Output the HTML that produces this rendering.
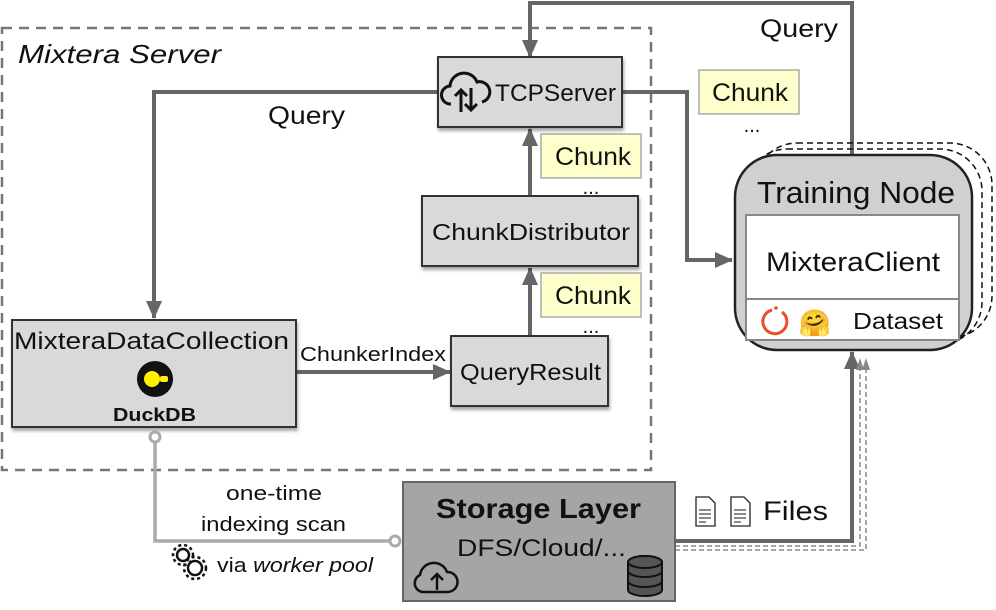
<!DOCTYPE html>
<html><head><meta charset="utf-8"><style>
html,body{margin:0;padding:0;background:#fff;}
svg{display:block;}
text{font-family:"Liberation Sans",sans-serif;fill:#111;}
</style></head><body>
<svg width="996" height="610" viewBox="0 0 996 610" xmlns="http://www.w3.org/2000/svg">
<defs>
<marker id="ah2" markerWidth="18" markerHeight="16" refX="17" refY="8" orient="auto" markerUnits="userSpaceOnUse"><path d="M0,0 L18,8 L0,16 z" fill="#666"/></marker>
<filter id="sh" x="-5%" y="-5%" width="115%" height="125%"><feDropShadow dx="1" dy="3" stdDeviation="1.5" flood-color="#000" flood-opacity="0.35"/></filter>
</defs>

<rect x="2" y="28" width="649" height="442" fill="none" stroke="#777" stroke-width="2.5" stroke-dasharray="10,7"/>
<text x="18" y="63" font-size="26" font-style="italic" textLength="203" lengthAdjust="spacingAndGlyphs">Mixtera Server</text>

<path d="M852,155 L852,3 L530,3 L530,57" fill="none" stroke="#666" stroke-width="4" marker-end="url(#ah2)"/>
<text x="760" y="37" font-size="25" textLength="78" lengthAdjust="spacingAndGlyphs">Query</text>

<path d="M440,92 L154,92 L154,318" fill="none" stroke="#666" stroke-width="4" marker-end="url(#ah2)"/>
<text x="268" y="124" font-size="25" textLength="77" lengthAdjust="spacingAndGlyphs">Query</text>

<path d="M622,92 L687,92 L687,260 L732,260" fill="none" stroke="#666" stroke-width="4" marker-end="url(#ah2)"/>

<path d="M530,336 L530,268" fill="none" stroke="#666" stroke-width="4" marker-end="url(#ah2)"/>
<path d="M530,196 L530,129" fill="none" stroke="#666" stroke-width="4" marker-end="url(#ah2)"/>
<path d="M296,372 L450,372" fill="none" stroke="#666" stroke-width="4" marker-end="url(#ah2)"/>
<text x="300" y="361" font-size="20" textLength="146" lengthAdjust="spacingAndGlyphs">ChunkerIndex</text>

<rect x="438" y="57" width="184" height="70" fill="#d9d9d9" stroke="#333" stroke-width="2" filter="url(#sh)"/>
<path d="M451,104 a9,9 0 0 1 -1,-18 a14,14 0 0 1 27,-4 a10,10 0 0 1 5,20" fill="none" stroke="#111" stroke-width="3"/>
<path d="M461,112 L461,90 M455,96 L461,90 L467,96 M471,88 L471,110 M465,104 L471,110 L477,104" fill="none" stroke="#111" stroke-width="3"/>
<text x="495" y="101" font-size="24" textLength="121" lengthAdjust="spacingAndGlyphs">TCPServer</text>

<rect x="422" y="196" width="216" height="70" fill="#d9d9d9" stroke="#333" stroke-width="2" filter="url(#sh)"/>
<text x="432" y="240" font-size="23" textLength="198" lengthAdjust="spacingAndGlyphs">ChunkDistributor</text>

<rect x="451" y="336" width="157" height="70" fill="#d9d9d9" stroke="#333" stroke-width="2" filter="url(#sh)"/>
<text x="460" y="380" font-size="23" textLength="141" lengthAdjust="spacingAndGlyphs">QueryResult</text>

<rect x="541" y="134" width="100" height="44" fill="#ffffcc" stroke="#aaa" stroke-width="1.5"/>
<text x="555" y="165" font-size="25" textLength="76" lengthAdjust="spacingAndGlyphs">Chunk</text>
<text x="591" y="194" font-size="20" text-anchor="middle">...</text>
<rect x="541" y="273" width="100" height="44" fill="#ffffcc" stroke="#aaa" stroke-width="1.5"/>
<text x="555" y="304" font-size="25" textLength="76" lengthAdjust="spacingAndGlyphs">Chunk</text>
<text x="591" y="333" font-size="20" text-anchor="middle">...</text>
<rect x="699" y="70" width="100" height="44" fill="#ffffcc" stroke="#aaa" stroke-width="1.5"/>
<text x="712" y="101" font-size="25" textLength="76" lengthAdjust="spacingAndGlyphs">Chunk</text>
<text x="752" y="132" font-size="20" text-anchor="middle">...</text>

<rect x="12" y="320" width="284" height="107" fill="#d9d9d9" stroke="#333" stroke-width="2" filter="url(#sh)"/>
<text x="14" y="349" font-size="24" textLength="275" lengthAdjust="spacingAndGlyphs">MixteraDataCollection</text>
<circle cx="155" cy="379" r="18" fill="#111"/>
<circle cx="152" cy="379" r="8" fill="#fff100"/>
<rect x="160" y="376" width="8" height="6" rx="2" fill="#fff100"/>
<text x="113" y="421" font-size="18" font-weight="bold" textLength="83" lengthAdjust="spacingAndGlyphs">DuckDB</text>

<path d="M155,437 L155,541 L395,541" fill="none" stroke="#aaa" stroke-width="3.5"/>
<circle cx="155" cy="437" r="5" fill="#fff" stroke="#aaa" stroke-width="3"/>
<circle cx="395" cy="541" r="5" fill="#fff" stroke="#aaa" stroke-width="3"/>
<text x="226" y="500" font-size="20" textLength="96" lengthAdjust="spacingAndGlyphs">one-time</text>
<text x="201" y="531" font-size="20" textLength="145" lengthAdjust="spacingAndGlyphs">indexing scan</text>
<g fill="none" stroke="#111" stroke-width="2.5">
<circle cx="183" cy="555" r="6"/><circle cx="195" cy="568" r="7"/>
<circle cx="183" cy="555" r="10" stroke-dasharray="3,3"/><circle cx="195" cy="568" r="11" stroke-dasharray="3,3"/>
</g>
<text x="217" y="572" font-size="20" textLength="156" lengthAdjust="spacingAndGlyphs">via <tspan font-style="italic">worker pool</tspan></text>

<path d="M675,541 L852,541 L852,352" fill="none" stroke="#666" stroke-width="4" marker-end="url(#ah2)"/>
<path d="M675,546 L860,546 L860,366" fill="none" stroke="#888" stroke-width="1.5" stroke-dasharray="5,3"/>
<path d="M675,550 L866,550 L866,366" fill="none" stroke="#888" stroke-width="1.5" stroke-dasharray="5,3"/>
<path d="M856,370 L860,358 L864,370 z M862,370 L866,358 L870,370 z" fill="#888"/>
<rect x="403" y="482" width="272" height="119" fill="#a5a5a5" stroke="#666" stroke-width="2"/>
<text x="436" y="518" font-size="28" font-weight="bold" textLength="205" lengthAdjust="spacingAndGlyphs">Storage Layer</text>
<text x="457" y="556" font-size="24" textLength="169" lengthAdjust="spacingAndGlyphs">DFS/Cloud/...</text>
<path d="M422,592 a9,9 0 0 1 -2,-17 a14,14 0 0 1 27,-3 a10,10 0 0 1 1,20 z" fill="none" stroke="#111" stroke-width="2.5"/>
<path d="M437,590 L437,574 M431,580 L437,574 L443,580" fill="none" stroke="#111" stroke-width="2.5"/>
<g fill="#555" stroke="#111" stroke-width="2">
<path d="M628,562 a17,6 0 0 1 34,0 v28 a17,6 0 0 1 -34,0 z"/>
<path d="M628,571 a17,6 0 0 0 34,0 M628,581 a17,6 0 0 0 34,0" fill="none"/>
<ellipse cx="645" cy="562" rx="17" ry="6"/>
</g>
<g fill="#fff" stroke="#222" stroke-width="1.3">
<path d="M696,497 h13 l6,6 v23 h-19 z"/><path d="M731,497 h13 l6,6 v23 h-19 z"/>
</g>
<g stroke="#444" stroke-width="1.2"><path d="M699,510h12M699,514h12M699,518h12M699,522h7M734,510h12M734,514h12M734,518h12M734,522h7"/></g>
<text x="763" y="520" font-size="27" textLength="65" lengthAdjust="spacingAndGlyphs">Files</text>

<rect x="755" y="143" width="237" height="195" rx="42" fill="none" stroke="#111" stroke-width="1.5" stroke-dasharray="6,4"/>
<rect x="745" y="149" width="237" height="195" rx="42" fill="none" stroke="#111" stroke-width="1.5" stroke-dasharray="6,4"/>
<rect x="735" y="155" width="237" height="195" rx="42" fill="#d0d0d0" stroke="#222" stroke-width="2.5"/>
<text x="757" y="203" font-size="31" textLength="198" lengthAdjust="spacingAndGlyphs">Training Node</text>
<rect x="746" y="215" width="213" height="125" fill="#fff" stroke="#888" stroke-width="2"/>
<line x1="746" y1="299" x2="959" y2="299" stroke="#888" stroke-width="2"/>
<text x="766" y="271" font-size="27" textLength="174" lengthAdjust="spacingAndGlyphs">MixteraClient</text>
<path d="M772,310 a12,12 0 1 0 10,2" fill="none" stroke="#ee4c2c" stroke-width="3"/>
<circle cx="776" cy="308" r="1.8" fill="#ee4c2c"/>
<text x="815" y="332" font-size="26" text-anchor="middle">🤗</text>
<text x="853" y="329" font-size="23" textLength="90" lengthAdjust="spacingAndGlyphs">Dataset</text>
</svg>
</body></html>
